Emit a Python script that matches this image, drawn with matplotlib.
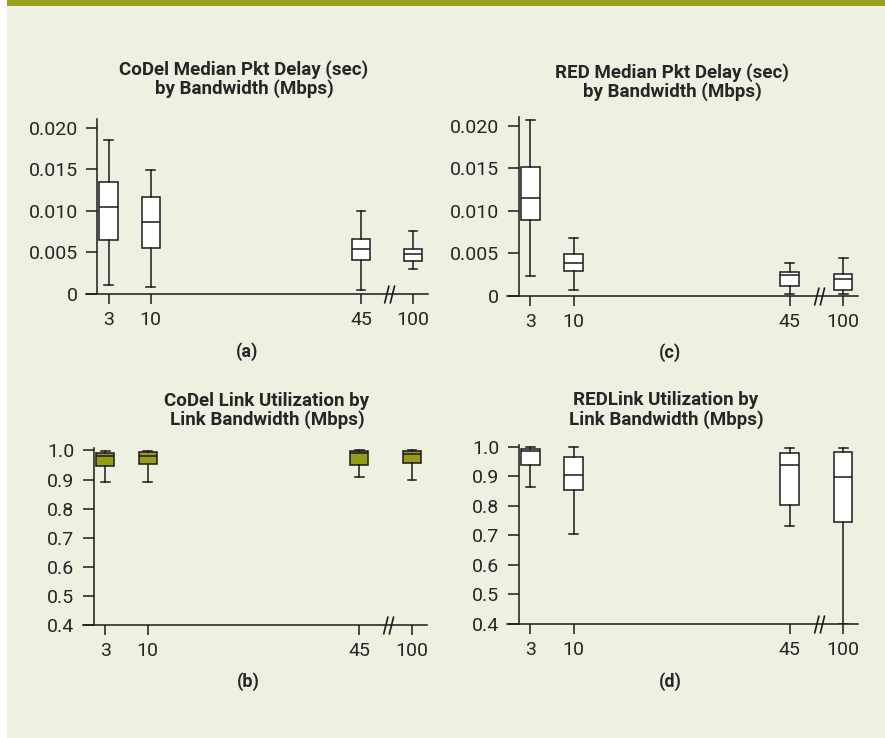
import numpy as np
import matplotlib.pyplot as plt
from matplotlib.path import Path
from matplotlib.patches import Rectangle

W, H = 885, 738
BG = '#eef0e1'
OLIVE = '#969c16'
BAR = '#9aa11a'

# Link bandwidth categories and their (broken) x positions
bandwidths = ['3', '10', '45', '100']
positions = [1, 2, 7, 8.24]

# (a) CoDel median packet delay (sec)
codel_delay_lo = [0.0011, 0.00085, 0.0005, 0.0030]
codel_delay_q1 = [0.0065, 0.0055, 0.0041, 0.0039]
codel_delay_med = [0.0104, 0.0086, 0.0054, 0.0048]
codel_delay_q3 = [0.0135, 0.0116, 0.0066, 0.0054]
codel_delay_hi = [0.0185, 0.0149, 0.0100, 0.0076]

# (c) RED median packet delay (sec)
red_delay_lo = [0.0023, 0.0007, 0.0002, 0.00016]
red_delay_q1 = [0.0089, 0.0029, 0.0012, 0.0007]
red_delay_med = [0.0115, 0.0039, 0.0024, 0.0020]
red_delay_q3 = [0.0151, 0.0049, 0.0028, 0.0026]
red_delay_hi = [0.0207, 0.0068, 0.0039, 0.0044]

# (b) CoDel link utilization
codel_util_lo = [0.892, 0.892, 0.907, 0.897]
codel_util_q1 = [0.946, 0.952, 0.951, 0.956]
codel_util_med = [0.981, 0.982, 0.990, 0.988]
codel_util_q3 = [0.992, 0.994, 0.999, 0.999]
codel_util_hi = [0.999, 0.999, 1.000, 1.000]

# (d) RED link utilization
red_util_lo = [0.864, 0.705, 0.732, 0.40]
red_util_q1 = [0.938, 0.853, 0.801, 0.745]
red_util_med = [0.984, 0.904, 0.939, 0.897]
red_util_q3 = [0.993, 0.964, 0.980, 0.981]
red_util_hi = [1.000, 0.999, 0.997, 0.995]

delay_ticks = [0, 0.005, 0.010, 0.015, 0.020]
delay_ticklabels = ['0', '0.005', '0.010', '0.015', '0.020']
util_ticks = [0.4, 0.5, 0.6, 0.7, 0.8, 0.9, 1.0]
util_ticklabels = ['0.4', '0.5', '0.6', '0.7', '0.8', '0.9', '1.0']

plt.rcParams['font.family'] = ['Roboto', 'DejaVu Sans']
TXT = '#262626'

fig = plt.figure(figsize=(W / 100, H / 100), dpi=100, facecolor='white')

# background panel and header strip
fig.patches.append(Rectangle((7 / W, 0), 1 - 7 / W, 1, transform=fig.transFigure,
                             facecolor=BG, edgecolor='none', zorder=-10))
fig.patches.append(Rectangle((7 / W, 1 - 6 / H), 1 - 7 / W, 6 / H, transform=fig.transFigure,
                             facecolor=BAR, edgecolor='none', zorder=-9))


def px_axes(l, t, r, b):
    return fig.add_axes([l / W, 1 - b / H, (r - l) / W, (b - t) / H])


# two slanted strokes used as the axis-break marker
brk = Path([(-3.5, -8), (0.5, 8), (1.5, -8), (5.5, 8)],
           [Path.MOVETO, Path.LINETO, Path.MOVETO, Path.LINETO])


def panel(ax, lo, q1, med, q3, hi, ylim, ticks, ticklabels, fill):
    stats = []
    for i in range(len(bandwidths)):
        stats.append({'whislo': lo[i], 'q1': q1[i], 'med': med[i], 'q3': q3[i],
                      'whishi': hi[i], 'label': bandwidths[i]})
    ax.bxp(stats, positions=positions, widths=0.43, capwidths=0.2, showfliers=False,
           patch_artist=True,
           boxprops=dict(facecolor=fill, edgecolor='#1a1a1a', linewidth=1.1),
           medianprops=dict(color='#1a1a1a', linewidth=1.1),
           whiskerprops=dict(color='#1a1a1a', linewidth=1.1),
           capprops=dict(color='#1a1a1a', linewidth=1.1))
    ax.set_xlim(0.465, 8.59)
    ax.set_ylim(*ylim)
    ax.set_facecolor('none')
    ax.spines[['top', 'right']].set_visible(False)
    ax.spines['left'].set_position(('data', 0.73))
    for s in ('left', 'bottom'):
        ax.spines[s].set_linewidth(1.1)
        ax.spines[s].set_color('#1a1a1a')
    ax.set_xticks(positions)
    ax.set_xticklabels(bandwidths)
    ax.set_yticks(ticks)
    ax.set_yticklabels(ticklabels)
    ax.tick_params(axis='y', length=8, width=1.1, color='#1a1a1a', pad=6,
                   labelsize=14, labelcolor=TXT)
    ax.tick_params(axis='x', length=7.5, width=1.1, color='#1a1a1a', pad=5,
                   labelsize=14, labelcolor=TXT)
    ax.plot([7.65], [ylim[0]], marker=brk, markersize=13, color='#1a1a1a',
            markeredgewidth=1.2, clip_on=False, zorder=5)


ax_a = px_axes(86, 119.4, 428, 293.7)
panel(ax_a, codel_delay_lo, codel_delay_q1, codel_delay_med, codel_delay_q3, codel_delay_hi,
      (0, 0.021), delay_ticks, delay_ticklabels, 'white')

ax_c = px_axes(507.3, 117.2, 858.3, 295.7)
panel(ax_c, red_delay_lo, red_delay_q1, red_delay_med, red_delay_q3, red_delay_hi,
      (0, 0.021), delay_ticks, delay_ticklabels, 'white')

ax_b = px_axes(82.7, 448.4, 426.7, 625)
panel(ax_b, codel_util_lo, codel_util_q1, codel_util_med, codel_util_q3, codel_util_hi,
      (0.4, 1.007), util_ticks, util_ticklabels, OLIVE)

ax_d = px_axes(507.3, 444.9, 858.3, 623.7)
panel(ax_d, red_util_lo, red_util_q1, red_util_med, red_util_q3, red_util_hi,
      (0.4, 1.006), util_ticks, util_ticklabels, 'white')

titles = [
    ('CoDel Median Pkt Delay (sec)\nby Bandwidth (Mbps)', 244, 79),
    ('RED Median Pkt Delay (sec)\nby Bandwidth (Mbps)', 672, 82),
    ('CoDel Link Utilization by\nLink Bandwidth (Mbps)', 267, 410.5),
    ('REDLink Utilization by\nLink Bandwidth (Mbps)', 666, 410),
]
for txt, x, y in titles:
    fig.text(x / W, 1 - y / H, txt, ha='center', va='center', fontsize=13.5,
             fontweight='bold', color=TXT, linespacing=1.05)

sublabels = [('(a)', 247, 352), ('(c)', 670, 353), ('(b)', 248, 682), ('(d)', 670, 682)]
for txt, x, y in sublabels:
    fig.text(x / W, 1 - y / H, txt, ha='center', va='center', fontsize=13,
             fontweight='bold', color=TXT)

fig.savefig('out.png', dpi=100, facecolor=fig.get_facecolor())
